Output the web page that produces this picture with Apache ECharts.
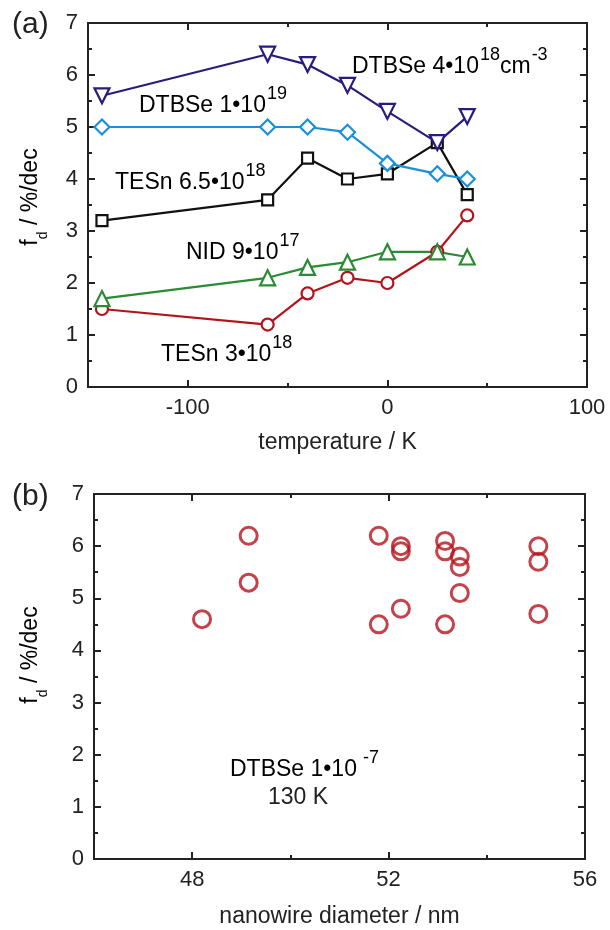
<!DOCTYPE html>
<html>
<head>
<meta charset="utf-8">
<script src="https://cdn.jsdelivr.net/npm/echarts@6/dist/echarts.min.js"></script>
<style>html,body{margin:0;padding:0;background:#fff;}#c{width:610px;height:930px;}</style>
</head>
<body>
<div id="c"></div>
<script>
// ---- Panel (a): f_d vs temperature ----
const temps = [-143, -60, -40, -20, 0, 25, 40];
const dtbse4e18 = [5.6, 6.4, 6.2, 5.8, 5.3, 4.7, 5.2];
const dtbse1e19 = [5.0, 5.0, 5.0, 4.9, 4.3, 4.1, 4.0];
const tesn65e18 = [3.2, 3.6, 4.4, 4.0, 4.1, 4.7, 3.7];
const nid9e17   = [1.7, 2.1, 2.3, 2.4, 2.6, 2.6, 2.5];
const tesn3e18  = [1.5, 1.2, 1.8, 2.1, 2.0, 2.6, 3.3];

// ---- Panel (b): f_d vs nanowire diameter ----
const diameters = [48.2, 49.15, 49.15, 51.8, 51.8, 52.25, 52.25, 52.25, 53.15, 53.15, 53.15, 53.45, 53.45, 53.45, 55.05, 55.05, 55.05];
const fdValues  = [4.6, 6.2, 5.3, 6.2, 4.5, 6.0, 5.9, 4.8, 6.1, 5.9, 4.5, 5.8, 5.6, 5.1, 6.0, 5.7, 4.7];

// ---- tick labels ----
const tempTicks = [-100, 0, 100];
const tempMinorTicks = [-50, 50];
const diamTicks = [48, 52, 56];
const diamMinorTicks = [50, 54];
const fdTicks = [0, 1, 2, 3, 4, 5, 6, 7];

const FONT = '"Liberation Sans", Arial, sans-serif';
const AX = '#222';
const C_NAVY = '#2c1b7c', C_BLUE = '#1c8fd9', C_BLACK = '#111111', C_GREEN = '#2a8b34', C_RED = '#b3141b';

function pairs(xs, ys){ return xs.map((x,i)=>[x, ys[i]]); }

function xAx(grid, min, max, pos, major, labels, tickLen, name, gap){
  return {
    type:'value', gridIndex:grid, min:min, max:max, position:pos,
    axisLine:{show:true, onZero:false, lineStyle:{color:AX, width:2}},
    axisTick:{show:true, inside:true, length:tickLen, customValues:major, lineStyle:{color:AX, width:2}},
    axisLabel:{show:labels, customValues:major, fontSize:22, color:AX, fontFamily:FONT, margin:10},
    splitLine:{show:false},
    name: name || '', nameLocation:'middle', nameGap:gap || 46,
    nameTextStyle:{fontSize:23, color:AX, fontFamily:FONT}
  };
}
function yAx(grid, pos, labels){
  return {
    type:'value', gridIndex:grid, min:0, max:7, interval:1, position:pos,
    axisLine:{show:true, onZero:false, lineStyle:{color:AX, width:2}},
    axisTick:{show:true, inside:true, length:7, lineStyle:{color:AX, width:2}},
    minorTick:{show:true, splitNumber:2, length:4, lineStyle:{color:AX, width:2}},
    axisLabel:{show:labels, fontSize:22, color:AX, fontFamily:FONT, margin:10,
      formatter:(v)=> fdTicks.indexOf(v) >= 0 ? String(v) : ''},
    splitLine:{show:false}
  };
}

function lineSeries(name, ys, color, symbol, size, rotate){
  return {
    name:name, type:'line', xAxisIndex:0, yAxisIndex:0,
    data:pairs(temps, ys), symbol:symbol, symbolSize:size, symbolRotate:rotate||0,
    showAllSymbol:true,
    lineStyle:{color:color, width:2.2},
    itemStyle:{color:'#fff', borderColor:color, borderWidth:2.2},
    emphasis:{disabled:true}, z:3
  };
}

const rich = {
  a:{fontSize:23, fontFamily:FONT, color:AX, lineHeight:26, verticalAlign:'bottom'},
  s:{fontSize:18, fontFamily:FONT, color:AX, lineHeight:18, verticalAlign:'bottom', padding:[0,0,14,1]}
};
function label(x, y, text){
  return {type:'text', x:x, y:y, style:{text:text, rich:rich, textAlign:'left', textVerticalAlign:'bottom'}, z:10};
}
const yTitleRich = {
  a:{fontSize:23, fontFamily:FONT, color:AX, lineHeight:26, verticalAlign:'top'},
  d:{fontSize:14, fontFamily:FONT, color:AX, lineHeight:14, verticalAlign:'top', padding:[17,0,0,0]}
};
function yTitle(cx, cy){
  return {type:'text', x:cx, y:cy, rotation:Math.PI/2,
    style:{text:'{a|f}{d|d}{a| / %/dec}', rich:yTitleRich, textAlign:'center', textVerticalAlign:'middle'}, z:10};
}

const option = {
  animation:false,
  backgroundColor:'#fff',
  grid:[
    {left:88, top:23, width:499, height:364},
    {left:94, top:494, width:491, height:365}
  ],
  xAxis:[
    xAx(0, -150, 100, 'bottom', tempTicks, true, 7, 'temperature / K', 44),
    xAx(0, -150, 100, 'top', tempTicks, false, 7),
    xAx(0, -150, 100, 'bottom', tempMinorTicks, false, 4),
    xAx(0, -150, 100, 'top', tempMinorTicks, false, 4),
    xAx(1, 46, 56, 'bottom', diamTicks, true, 7, 'nanowire diameter / nm', 46),
    xAx(1, 46, 56, 'top', diamTicks, false, 7),
    xAx(1, 46, 56, 'bottom', diamMinorTicks, false, 4),
    xAx(1, 46, 56, 'top', diamMinorTicks, false, 4)
  ],
  yAxis:[
    yAx(0, 'left', true),
    yAx(0, 'right', false),
    yAx(1, 'left', true),
    yAx(1, 'right', false)
  ],
  series:[
    lineSeries('TESn 3e18', tesn3e18, C_RED, 'circle', 12),
    lineSeries('NID 9e17', nid9e17, C_GREEN, 'triangle', 15),
    lineSeries('TESn 6.5e18', tesn65e18, C_BLACK, 'rect', 11),
    lineSeries('DTBSe 1e19', dtbse1e19, C_BLUE, 'diamond', 15),
    lineSeries('DTBSe 4e18', dtbse4e18, C_NAVY, 'triangle', 15, 180),
    {
      name:'DTBSe 1e-7', type:'scatter', xAxisIndex:4, yAxisIndex:2,
      data:pairs(diameters, fdValues), symbol:'circle', symbolSize:17,
      itemStyle:{color:'rgba(255,255,255,0)', borderColor:C_RED, borderWidth:3},
      emphasis:{disabled:true}
    }
  ],
  graphic:[
    {type:'text', x:12, y:25, style:{text:'(a)', fontSize:30, fontFamily:FONT, fill:AX, textVerticalAlign:'middle'}},
    {type:'text', x:12, y:497, style:{text:'(b)', fontSize:30, fontFamily:FONT, fill:AX, textVerticalAlign:'middle'}},
    yTitle(32, 197),
    yTitle(32, 655),
    label(352, 78, '{a|DTBSe 4•10}{s|18}{a|cm}{s|-3}'),
    label(139, 117, '{a|DTBSe 1•10}{s|19}'),
    label(115, 194, '{a|TESn 6.5•10}{s|18}'),
    label(186, 264, '{a|NID 9•10}{s|17}'),
    label(161, 366, '{a|TESn 3•10}{s|18}'),
    label(230, 781, '{a|DTBSe 1•10}{s| -7}'),
    {type:'text', x:298, y:798, style:{text:'130 K', fontSize:23, fontFamily:FONT, fill:AX, textAlign:'center', textVerticalAlign:'middle'}}
  ]
};
const chart = echarts.init(document.getElementById('c'), null, {renderer:'canvas'});
chart.setOption(option);
</script>
</body>
</html>
